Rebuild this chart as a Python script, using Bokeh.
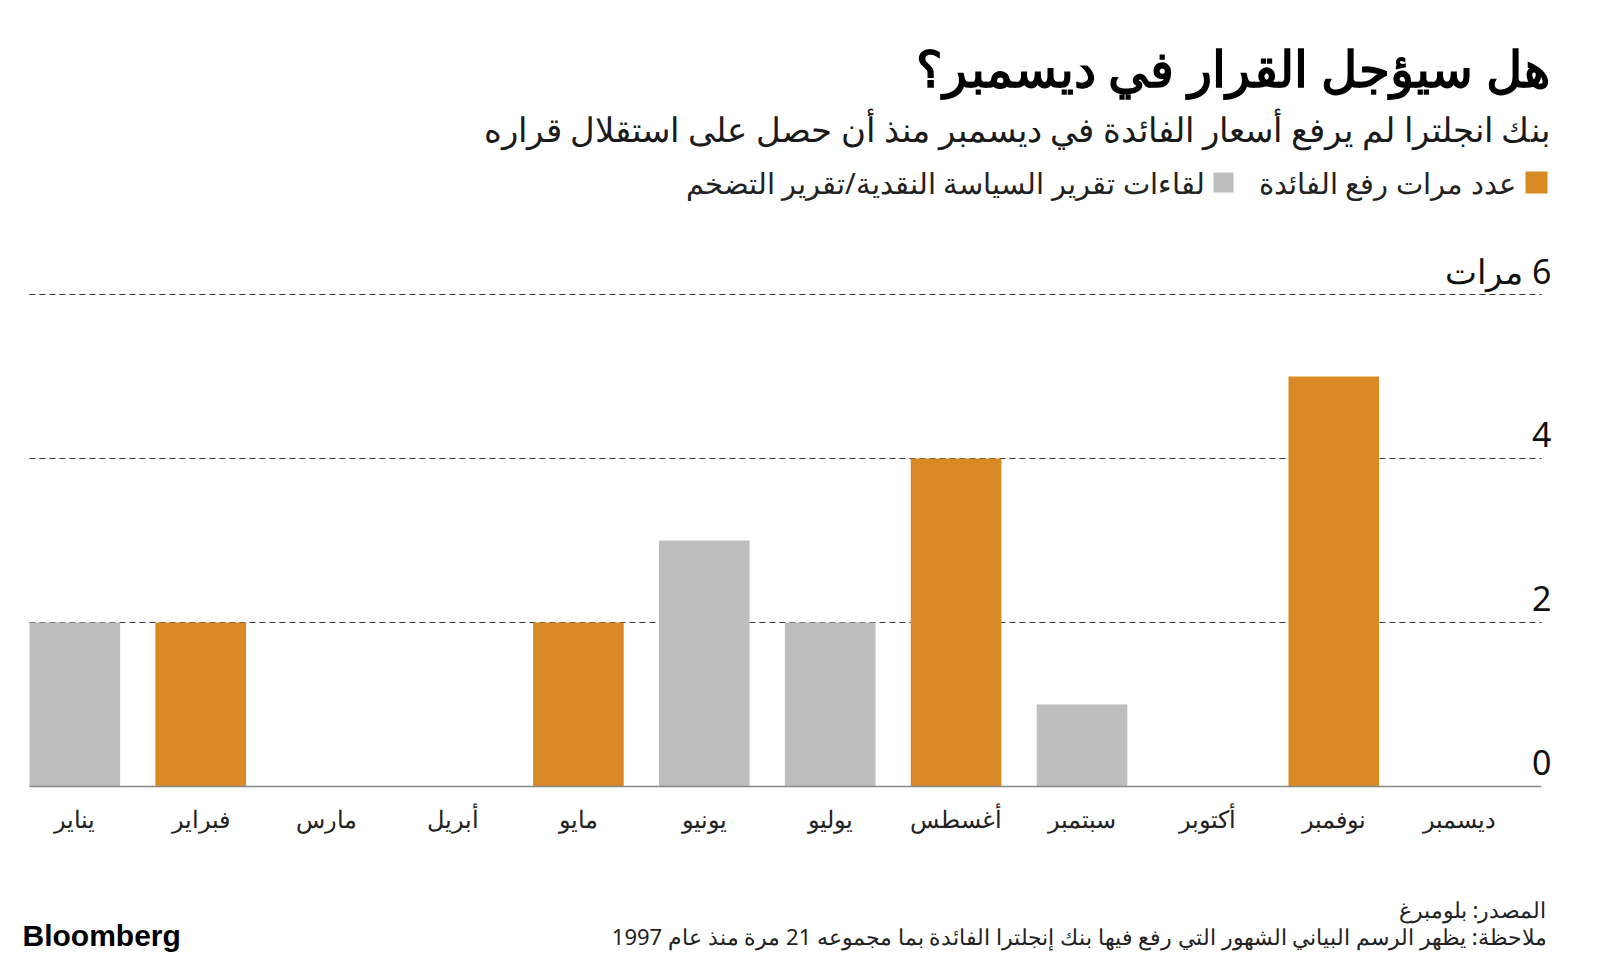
from bokeh.plotting import figure
from bokeh.models import Range1d, ColumnDataSource
from bokeh.core.properties import value
from bokeh.embed import file_html
from bokeh.resources import INLINE

# ---------------- data ----------------
months = ["يناير", "فبراير", "مارس", "أبريل", "مايو", "يونيو",
          "يوليو", "أغسطس", "سبتمبر", "أكتوبر", "نوفمبر", "ديسمبر"]
hikes_other = [0, 2, 0, 0, 2, 0, 0, 4, 0, 0, 5, 0]      # orange
hikes_meetings = [2, 0, 0, 0, 0, 3, 2, 0, 1, 0, 0, 0]   # gray
y_ticks = [0, 2, 4, 6]
y_tick_labels = ["0", "2", "4", "\u200f6 مرات"]

title_text = "هل سيؤجل القرار في ديسمبر؟"
subtitle_text = "بنك انجلترا لم يرفع أسعار الفائدة في ديسمبر منذ أن حصل على استقلال قراره"
legend_orange = "عدد مرات رفع الفائدة"
legend_gray = "لقاءات تقرير السياسة النقدية/تقرير التضخم"
source_text = "المصدر: بلومبرغ"
note_text = "ملاحظة: يظهر الرسم البياني الشهور التي رفع فيها بنك إنجلترا الفائدة بما مجموعه 21 مرة منذ عام 1997"

ORANGE = "#D98A25"
GRAY = "#BEBEBE"
AR_FONT = "Noto Sans"

# ---------------- layout (canvas pixels) ----------------
W, H = 1584, 952
JAN_CX = 74.3          # centre of first category
PX_X = 125.9           # pixels per category
BASE_CY = 786          # y = 0
PX_Y = 82              # pixels per unit
BAR_W = 0.72
X_LEFT, X_RIGHT = -0.36, 11.65   # extent of grid / baseline in data units

X0 = -JAN_CX / PX_X
X1 = X0 + W / PX_X
Y0 = -(H - BASE_CY) / PX_Y
Y1 = BASE_CY / PX_Y


def dx(cx):
    return X0 + cx / PX_X


def dy(cy):
    return (BASE_CY - cy) / PX_Y


p = figure(width=W, height=H, output_backend="svg", toolbar_location=None,
           x_range=Range1d(X0, X1), y_range=Range1d(Y0, Y1),
           min_border=0, x_axis_location=None, y_axis_location=None)
p.outline_line_color = None
p.grid.visible = False
p.background_fill_color = "white"
p.border_fill_color = "white"

# grid lines (dashed) at the y ticks
grid_src = ColumnDataSource(dict(x0=[X_LEFT] * (len(y_ticks) - 1),
                                 x1=[X_RIGHT] * (len(y_ticks) - 1),
                                 y=y_ticks[1:]))
p.segment(x0="x0", x1="x1", y0="y", y1="y", source=grid_src,
          line_color="#3a3a3a", line_width=1, line_dash="6 4")

# bars
idx = list(range(len(months)))
src = ColumnDataSource(dict(x=idx, orange=hikes_other, gray=hikes_meetings))
p.vbar(x="x", top="orange", bottom=0, width=BAR_W, source=src,
       fill_color=ORANGE, line_color=None)
p.vbar(x="x", top="gray", bottom=0, width=BAR_W, source=src,
       fill_color=GRAY, line_color=None)

# baseline
p.segment(x0=[X_LEFT], x1=[X_RIGHT], y0=[0], y1=[0], line_color="#888888", line_width=1.5)

# month labels
msrc = ColumnDataSource(dict(x=idx, y=[dy(818)] * len(idx), t=months))
p.text(x="x", y="y", text="t", source=msrc, text_align="center",
       text_baseline="alphabetic", text_font=value(AR_FONT),
       text_font_size="24px", text_color="#222222")

# y tick labels (right side, above gridlines)
ysrc = ColumnDataSource(dict(x=[dx(1551)] * len(y_ticks),
                             y=[t + 24 / PX_Y for t in y_ticks], t=y_tick_labels))
p.text(x="x", y="y", text="t", source=ysrc, text_align="right",
       text_baseline="alphabetic", text_font=value(AR_FONT),
       text_font_size="34px", text_color="#111111")


def add_text(text, cx, cy, size, align="right", bold=False, color="#111111", font=AR_FONT):
    p.text(x=[dx(cx)], y=[dy(cy)], text=[text], text_align=align,
           text_baseline="alphabetic", text_font=value(font),
           text_font_size=size, text_color=color,
           text_font_style="bold" if bold else "normal")


# header
add_text(title_text, 1549, 67, "50px", bold=True, color="#000000")
add_text(subtitle_text, 1549, 128, "34px", color="#1a1a1a")

# legend swatches
sw = ColumnDataSource(dict(l=[dx(1525), dx(1213)], r=[dx(1547), dx(1233)],
                           t=[dy(171), dy(172)], b=[dy(193), dy(192)],
                           c=[ORANGE, GRAY]))
p.quad(left="l", right="r", top="t", bottom="b", fill_color="c", line_color=None, source=sw)
add_text(legend_orange, 1515, 182, "29px", color="#222222")
add_text(legend_gray, 1204, 182, "29px", color="#222222")

# footer
add_text(source_text, 1546, 908, "22px", color="#222222")
add_text(note_text, 1546, 935, "22px", color="#222222")
add_text("Bloomberg", 22, 935, "30px", align="left", bold=True, color="#000000",
         font="Liberation Sans")

open("out.html", "w").write(file_html(p, INLINE))
